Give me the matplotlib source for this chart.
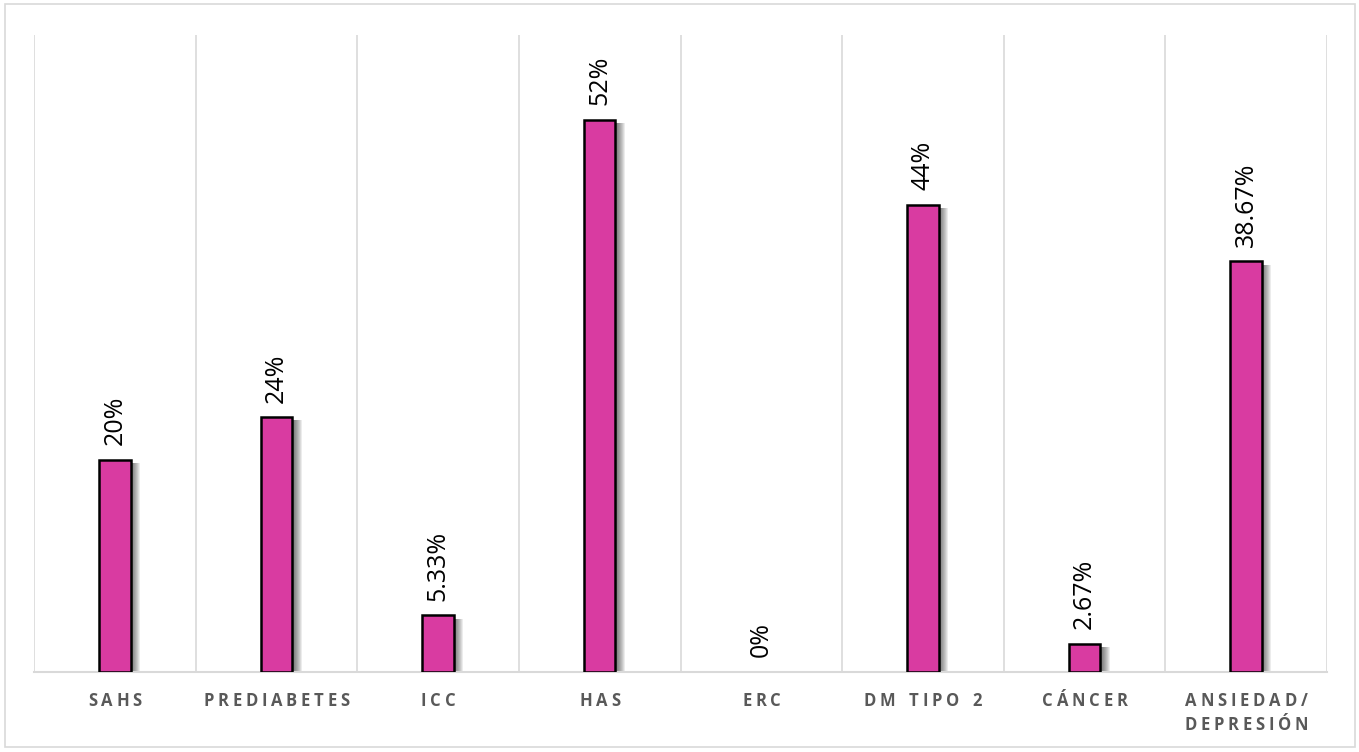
import matplotlib
matplotlib.use("Agg")
import matplotlib.pyplot as plt
from matplotlib.patches import Rectangle
import numpy as np

categories = ["SAHS", "PREDIABETES", "ICC", "HAS", "ERC", "DM TIPO 2", "CÁNCER", "ANSIEDAD/\nDEPRESIÓN"]
values = [20, 24, 5.33, 52, 0, 44, 2.67, 38.67]
value_labels = ["20%", "24%", "5.33%", "52%", "0%", "44%", "2.67%", "38.67%"]

BAR_COLOR = "#D93BA1"
GRID_COLOR = "#D9D9D9"
LABEL_COLOR = "#595959"

W, H, DPI = 1359, 752, 100
fig = plt.figure(figsize=(W / DPI, H / DPI), dpi=DPI)
fig.patch.set_facecolor("white")

# light frame around the whole chart area
fig.add_artist(Rectangle((5 / W, 5 / H), (1355 - 5) / W, (748 - 5) / H, transform=fig.transFigure,
                         fill=False, edgecolor=GRID_COLOR, linewidth=1.2))

left, right, top, bottom = 34, 1327, 35, 672
ax = fig.add_axes([left / W, 1 - bottom / H, (right - left) / W, (bottom - top) / H])
n = len(categories)
x = np.arange(n)
ax.set_xlim(-0.5, n - 0.5)
ax.set_ylim(0, 60)
for s in ("top", "right", "left"):
    ax.spines[s].set_visible(False)
ax.spines["bottom"].set_color(GRID_COLOR)
ax.spines["bottom"].set_linewidth(1.5)
ax.set_yticks([])
ax.set_xticks([])
for b in np.arange(-0.5, n, 1.0):
    ax.axvline(b, color=GRID_COLOR, linewidth=1.2, zorder=0)

bar_w = 0.195
px = 1.0 / ((right - left) / n)  # one pixel in x data units
vals = np.array(values)
# soft drop shadow to the right of each bar
for k in range(9):
    off = (1.5 + k) * px
    ax.bar(x + off, np.maximum(vals - 0.3, 0), width=bar_w, color="black",
           alpha=0.075, linewidth=0, zorder=1)
ax.bar(x, vals, width=bar_w, color=BAR_COLOR, edgecolor="black",
       linewidth=[1.8 if v > 0 else 0 for v in vals], zorder=3)

for xi, v, lab in zip(x, values, value_labels):
    ax.annotate(lab, (xi, v), xytext=(0, 10.5), textcoords="offset points", rotation=90,
                ha="center", va="bottom", fontsize=18, family="Open Sans", color="black")

# category labels with wide letter spacing
fig.canvas.draw()
renderer = fig.canvas.get_renderer()


def spaced_text(xc, yc, text, size=12, tracking=3.8):
    chars = list(text)
    widths = []
    for c in chars:
        t = fig.text(0, 0, c if c != " " else "n", fontsize=size, family="Open Sans", fontweight="bold")
        wpx = t.get_window_extent(renderer).width
        t.remove()
        widths.append(wpx * (0.55 if c == " " else 1.0))
    total = sum(widths) + tracking * (len(chars) - 1)
    cur = xc - total / 2
    for c, wpx in zip(chars, widths):
        if c != " ":
            fig.text(cur / W, 1 - yc / H, c, fontsize=size, family="Open Sans", fontweight="bold",
                     color=LABEL_COLOR, ha="left", va="center")
        cur += wpx + tracking


for xi, cat in zip(x, categories):
    xc = ax.transData.transform((xi, 0))[0]
    for j, line in enumerate(cat.split("\n")):
        spaced_text(xc, 701 + j * 24, line)

fig.savefig("out.png", dpi=DPI, facecolor="white")
